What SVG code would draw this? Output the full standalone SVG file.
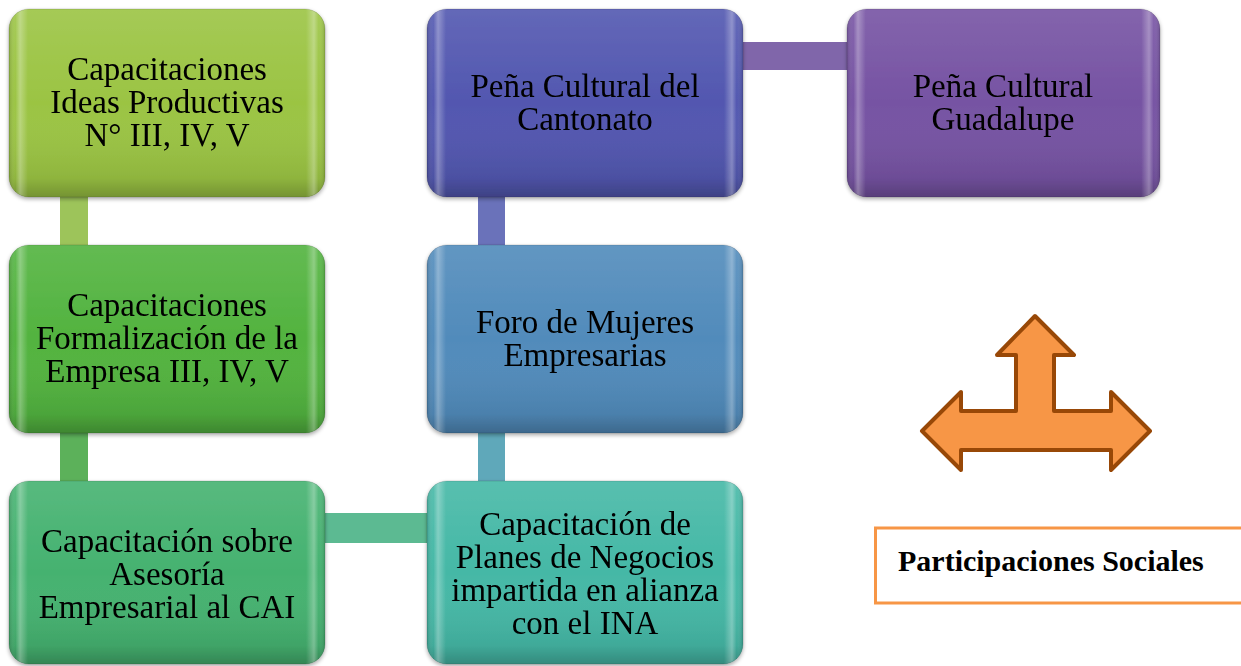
<svg xmlns="http://www.w3.org/2000/svg" width="1241" height="666" viewBox="0 0 1241 666">
<defs>
<linearGradient id="vshade" x1="0" y1="0" x2="0" y2="1">
<stop offset="0" stop-color="#ffffff" stop-opacity="0.10"/>
<stop offset="0.5" stop-color="#ffffff" stop-opacity="0"/>
<stop offset="0.9" stop-color="#000000" stop-opacity="0.08"/>
<stop offset="1" stop-color="#000000" stop-opacity="0.25"/>
</linearGradient>
<linearGradient id="hshade" x1="0" y1="0" x2="1" y2="0">
<stop offset="0" stop-color="#000000" stop-opacity="0.15"/>
<stop offset="0.02" stop-color="#ffffff" stop-opacity="0.0"/>
<stop offset="0.035" stop-color="#ffffff" stop-opacity="0.3"/>
<stop offset="0.06" stop-color="#ffffff" stop-opacity="0"/>
<stop offset="0.94" stop-color="#ffffff" stop-opacity="0"/>
<stop offset="0.965" stop-color="#ffffff" stop-opacity="0.3"/>
<stop offset="0.98" stop-color="#ffffff" stop-opacity="0.0"/>
<stop offset="1" stop-color="#000000" stop-opacity="0.15"/>
</linearGradient>
<filter id="shadow" x="-5%" y="-5%" width="110%" height="115%">
<feGaussianBlur in="SourceAlpha" stdDeviation="2"/>
<feOffset dx="0" dy="2" result="b"/>
<feComponentTransfer><feFuncA type="linear" slope="0.35"/></feComponentTransfer>
<feMerge><feMergeNode/><feMergeNode in="SourceGraphic"/></feMerge>
</filter>
</defs>
<style>
.t{font-size:33px;fill:#000;text-anchor:middle}
.lbl{font-size:30px;font-weight:bold;fill:#000}
.ov{fill:url(#vshade)}
.oh{fill:url(#hshade)}
.edge{fill:none;stroke:#000;stroke-opacity:0.12;stroke-width:1}
</style>
<rect width="1241" height="666" fill="#ffffff"/>
<g id="connectors">
<rect x="60" y="195" width="28" height="52" fill="#9dc45a"/>
<rect x="60" y="431" width="28" height="52" fill="#5cb15a"/>
<rect x="323" y="513" width="106" height="30" fill="#5cba92"/>
<rect x="478" y="431" width="27" height="52" fill="#5fa8ba"/>
<rect x="478" y="195" width="27" height="52" fill="#6a72ba"/>
<rect x="741" y="42" width="108" height="28" fill="#8066aa"/>
</g>
<g font-family="Liberation Serif, DejaVu Serif, serif">
<g id="n1" filter="url(#shadow)">
<rect x="9" y="9" width="316" height="188" rx="20" fill="#9bc443"/>
<rect x="9" y="9" width="316" height="188" rx="20" class="ov"/>
<rect x="9" y="9" width="316" height="188" rx="20" class="oh"/>
<rect x="9" y="9" width="316" height="188" rx="20" class="edge"/>
<text class="t" x="167" y="80">Capacitaciones</text>
<text class="t" x="167" y="113">Ideas Productivas</text>
<text class="t" x="167" y="146">N° III, IV, V</text>
</g>
<g id="n2" filter="url(#shadow)">
<rect x="9" y="245" width="316" height="188" rx="20" fill="#52b33f"/>
<rect x="9" y="245" width="316" height="188" rx="20" class="ov"/>
<rect x="9" y="245" width="316" height="188" rx="20" class="oh"/>
<rect x="9" y="245" width="316" height="188" rx="20" class="edge"/>
<text class="t" x="167" y="316">Capacitaciones</text>
<text class="t" x="167" y="349">Formalización de la</text>
<text class="t" x="167" y="382">Empresa III, IV, V</text>
</g>
<g id="n3" filter="url(#shadow)">
<rect x="9" y="481" width="316" height="183" rx="20" fill="#45b270"/>
<rect x="9" y="481" width="316" height="183" rx="20" class="ov"/>
<rect x="9" y="481" width="316" height="183" rx="20" class="oh"/>
<rect x="9" y="481" width="316" height="183" rx="20" class="edge"/>
<text class="t" x="167" y="552">Capacitación sobre</text>
<text class="t" x="167" y="585">Asesoría</text>
<text class="t" x="167" y="618">Empresarial al CAI</text>
</g>
<g id="n4" filter="url(#shadow)">
<rect x="427" y="481" width="316" height="183" rx="20" fill="#45b8a6"/>
<rect x="427" y="481" width="316" height="183" rx="20" class="ov"/>
<rect x="427" y="481" width="316" height="183" rx="20" class="oh"/>
<rect x="427" y="481" width="316" height="183" rx="20" class="edge"/>
<text class="t" x="585" y="535">Capacitación de</text>
<text class="t" x="585" y="568">Planes de Negocios</text>
<text class="t" x="585" y="601">impartida en alianza</text>
<text class="t" x="585" y="634">con el INA</text>
</g>
<g id="n5" filter="url(#shadow)">
<rect x="427" y="245" width="316" height="188" rx="20" fill="#518bbb"/>
<rect x="427" y="245" width="316" height="188" rx="20" class="ov"/>
<rect x="427" y="245" width="316" height="188" rx="20" class="oh"/>
<rect x="427" y="245" width="316" height="188" rx="20" class="edge"/>
<text class="t" x="585" y="333">Foro de Mujeres</text>
<text class="t" x="585" y="366">Empresarias</text>
</g>
<g id="n6" filter="url(#shadow)">
<rect x="427" y="9" width="316" height="188" rx="20" fill="#5257b0"/>
<rect x="427" y="9" width="316" height="188" rx="20" class="ov"/>
<rect x="427" y="9" width="316" height="188" rx="20" class="oh"/>
<rect x="427" y="9" width="316" height="188" rx="20" class="edge"/>
<text class="t" x="585" y="97">Peña Cultural del</text>
<text class="t" x="585" y="130">Cantonato</text>
</g>
<g id="n7" filter="url(#shadow)">
<rect x="847" y="9" width="313" height="188" rx="20" fill="#7653a3"/>
<rect x="847" y="9" width="313" height="188" rx="20" class="ov"/>
<rect x="847" y="9" width="313" height="188" rx="20" class="oh"/>
<rect x="847" y="9" width="313" height="188" rx="20" class="edge"/>
<text class="t" x="1003" y="97">Peña Cultural</text>
<text class="t" x="1003" y="130">Guadalupe</text>
</g>
<g id="arrow">
<polygon points="1035,316 1074,355 1054,355 1054,411 1111,411 1111,392 1150,431 1111,470 1111,450 961,450 961,470 922,431 961,392 961,411 1016,411 1016,355 997,355" fill="#f79646" stroke="#984807" stroke-width="4" stroke-linejoin="round"/>
</g>
<g id="label">
<rect x="875.5" y="528" width="370" height="75" fill="#ffffff" stroke="#f79646" stroke-width="3"/>
<text class="lbl" x="898" y="571">Participaciones Sociales</text>
</g>
</g>
</svg>
